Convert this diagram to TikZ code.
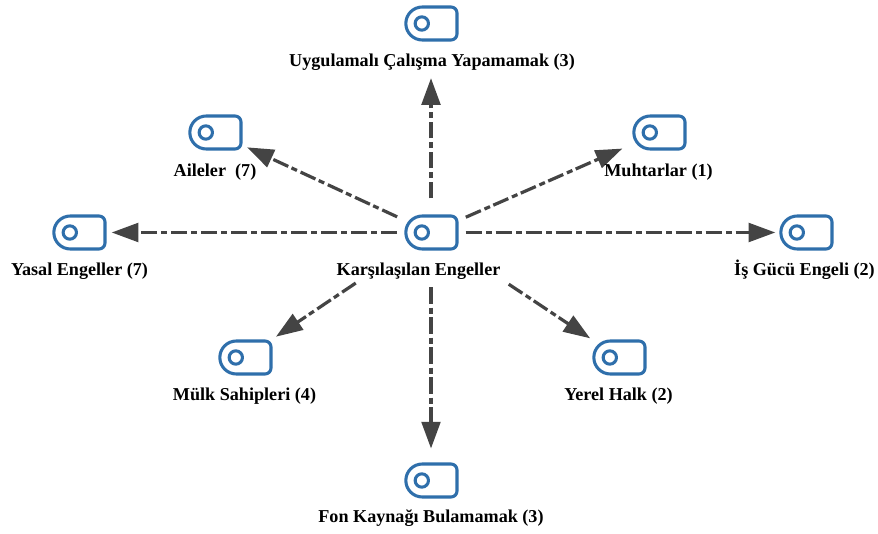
\documentclass[tikz,border=0pt]{standalone}
\usepackage{fontspec}
\setmainfont{Liberation Serif}
\usetikzlibrary{arrows.meta}
\definecolor{tagblue}{HTML}{2F6FAB}
\definecolor{linkgrey}{HTML}{444444}
\newcommand{\tagicon}[3]{%
  \node[tagbox] (#1) at (#2,#3) {};
  \draw[tagline] ([xshift=-12.5pt]#1.north east) -- ([xshift=-4.5pt]#1.north east)
    arc[start angle=90,end angle=0,radius=4.5pt]
    -- ([yshift=4.5pt]#1.south east)
    arc[start angle=0,end angle=-90,radius=4.5pt]
    -- ([xshift=13pt]#1.south west)
    arc[start angle=270,end angle=90,radius=12.375pt]
    -- cycle;
  \draw[tagline] ([xshift=-6.9pt]#1.center) circle[radius=5pt];
}
\tikzset{
  x=0.75pt,y=-0.75pt,
  tagbox/.style={minimum width=39pt,minimum height=24.75pt,inner sep=0pt,outer sep=0pt},
  tagline/.style={draw=tagblue,line width=2.3pt,line join=round},
  tagtext/.style={font=\bfseries\fontsize{13.6pt}{15pt}\selectfont,text=black,inner sep=0pt},
  link/.style={draw=linkgrey,line width=2.4pt,dash pattern=on 12.3pt off 3pt on 4.5pt off 2.7pt,
    -{Triangle[length=20pt,width=14pt,fill=linkgrey]}},
}
\begin{document}
\begin{tikzpicture}
\useasboundingbox[fill=white] (0,0) rectangle (878,534);
\tagicon{hub}{431}{232.5}
\tagicon{top}{431}{23.5}
\tagicon{fam}{215}{132.5}
\tagicon{muh}{659}{132.5}
\tagicon{yas}{79}{232.5}
\tagicon{isg}{806}{232.5}
\tagicon{mul}{245}{357.5}
\tagicon{yer}{619}{357.5}
\tagicon{fon}{431}{480.5}
\draw[link,shorten <=25.5pt,shorten >=41pt] (hub.center) -- (top.center);
\draw[link,shorten <=28pt,shorten >=26.5pt] (hub.center) -- (fam.center);
\draw[link,shorten <=28.5pt,shorten >=30pt] (hub.center) -- (muh.center);
\draw[link,shorten <=25.5pt,shorten >=24.5pt] (hub.center) -- (yas.center);
\draw[link,shorten <=26pt,shorten >=23pt] (hub.center) -- (isg.center);
\draw[link,shorten <=68pt,shorten >=28pt] (hub.center) -- (mul.center);
\draw[link,shorten <=70pt,shorten >=26pt] (hub.center) -- (yer.center);
\draw[link,shorten <=41pt,shorten >=24pt] (hub.center) -- (fon.center);
\node[tagtext] (thub) at (418.5,271.7) {Karşılaşılan Engeller};
\node[tagtext] (ttop) at (432,62.7) {Uygulamalı Çalışma Yapamamak (3)};
\node[tagtext] (tfam) at (215,171.7) {Aileler\ \ (7)};
\node[tagtext] (tmuh) at (658.5,171.7) {Muhtarlar (1)};
\node[tagtext] (tyas) at (79.5,271.7) {Yasal Engeller (7)};
\node[tagtext] (tisg) at (804.5,270) {İş Gücü Engeli (2)};
\node[tagtext] (tmul) at (244.5,395.7) {Mülk Sahipleri (4)};
\node[tagtext] (tyer) at (618.5,395.7) {Yerel Halk (2)};
\node[tagtext] (tfon) at (431,517.7) {Fon Kaynağı Bulamamak (3)};
\end{tikzpicture}
\end{document}
